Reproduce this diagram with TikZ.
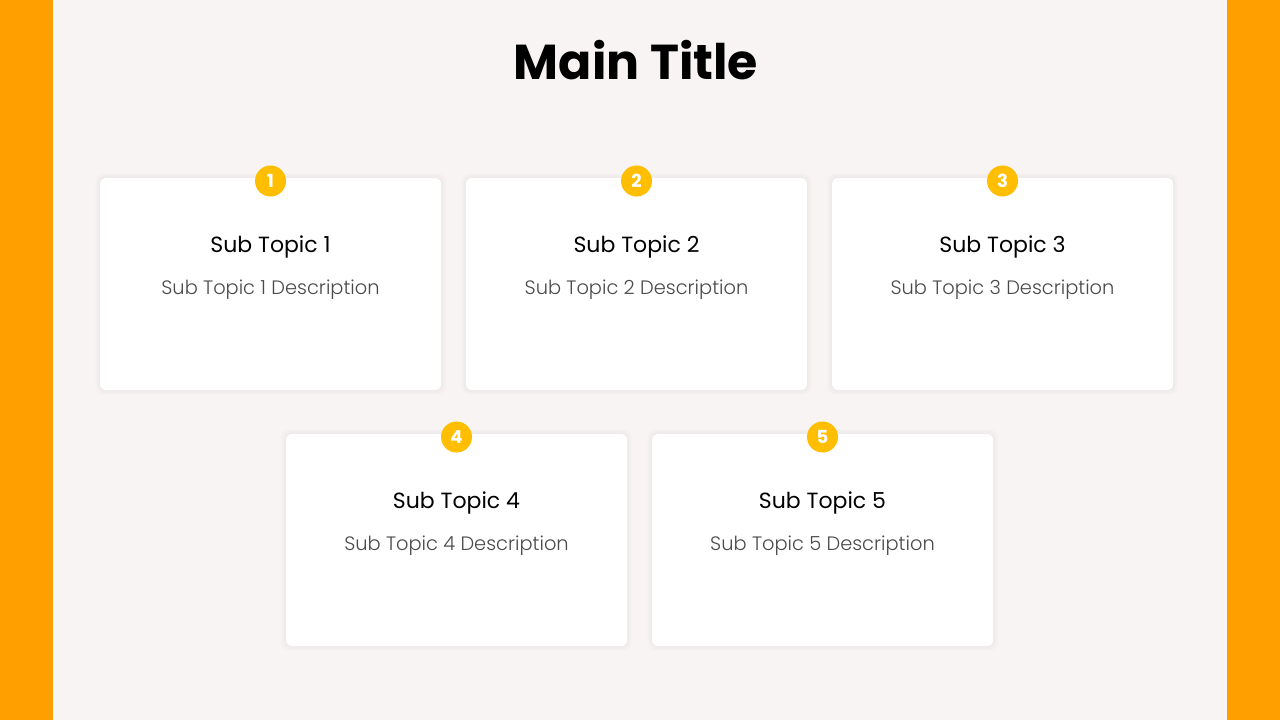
\documentclass[tikz,border=0pt]{standalone}
\usepackage{fontspec}
\setmainfont{Poppins}
\newfontfamily\lightfont{Poppins Light}
\definecolor{bg}{HTML}{F7F4F3}
\definecolor{bar}{HTML}{FFA000}
\definecolor{badge}{HTML}{FFBF00}
\definecolor{desc}{HTML}{4A4A4A}
\tikzset{
  card/.style={fill=white, rounded corners=6pt, minimum width=341pt, minimum height=212pt, inner sep=0pt},
  glow/.style={fill=black, fill opacity=0.007, rounded corners=8pt},
  badgec/.style={circle, fill=badge, minimum size=31pt, inner sep=0pt, text=white, font=\bfseries\fontsize{18}{18}\selectfont},
  head/.style={font=\fontsize{22}{25}\selectfont, text=black},
  descr/.style={font=\lightfont\fontsize{19.4}{22}\selectfont, text=desc},
  titlestyle/.style={font=\bfseries\fontsize{49}{52}\selectfont, text=black}
}
\begin{document}
\begin{tikzpicture}[x=1pt,y=-1pt]
\useasboundingbox (0,0) rectangle (1280,720);
\fill[bg] (0,0) rectangle (1280,720);
\fill[bar] (0,0) rectangle (53,720);
\fill[bar] (1227,0) rectangle (1280,720);
\node[titlestyle] (title) at (636,60) {Main Title};
\foreach \i/\x/\y in {1/270.5/284, 2/636.5/284, 3/1002.5/284, 4/456.5/540, 5/822.5/540} {
  \foreach \e in {5,4,3,2,1} {
    \fill[glow] (\x-170.5-\e,\y-106-\e) rectangle (\x+170.5+\e,\y+106+\e);
  }
  \node[card] (c\i) at (\x,\y) {};
  \node[badgec] (b\i) at (\x,\y-103) {\i};
  \node[head] (h\i) at (\x,\y-37) {Sub Topic \i};
  \node[descr] (d\i) at (\x,\y+6) {Sub Topic \i\ Description};
}
\end{tikzpicture}
\end{document}
